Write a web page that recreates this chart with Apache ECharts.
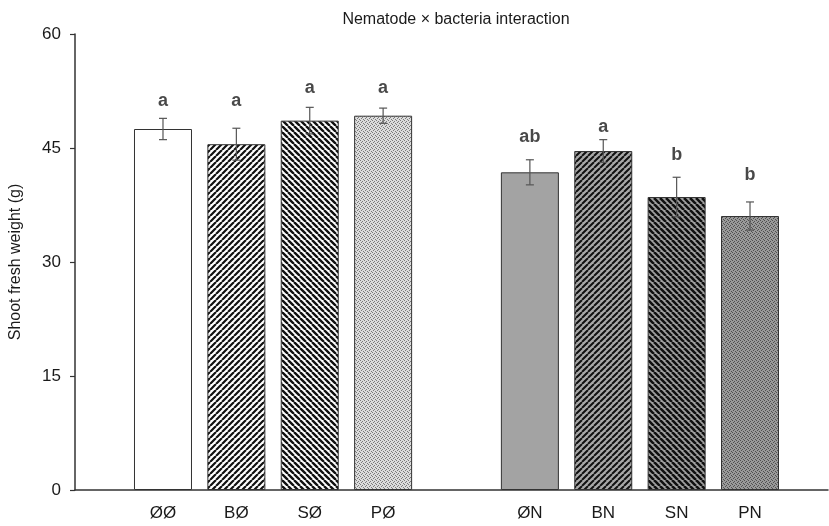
<!DOCTYPE html>
<html><head><meta charset="utf-8">
<script src="https://cdn.jsdelivr.net/npm/echarts@6/dist/echarts.min.js"></script>
<style>html,body{margin:0;padding:0;background:#fff}#c{width:829px;height:526px}</style>
</head><body><div id="c"></div>
<script>
const categories = ['ØØ','BØ','SØ','PØ','','ØN','BN','SN','PN'];
const means = [47.5, 45.5, 48.6, 49.25, null, 41.8, 44.6, 38.55, 36.05];
const errors = [1.4, 2.1, 1.75, 1.0, null, 1.65, 1.5, 2.6, 1.85];
const letters = ['a','a','a','a','','ab','a','b','b'];
const letterY = [51.2, 51.2, 52.9, 52.9, null, 46.4, 47.8, 44.1, 41.4];
const yTicks = [0, 15, 30, 45, 60];

function stripe(bg, fg, dir, p, lw) {
  const c = document.createElement('canvas'); c.width = p; c.height = p;
  const g = c.getContext('2d');
  g.fillStyle = bg; g.fillRect(0, 0, p, p);
  g.strokeStyle = fg; g.lineWidth = lw; g.beginPath();
  for (const k of [-p, 0, p]) {
    if (dir === '/') { g.moveTo(k, p); g.lineTo(k + p, 0); }
    else { g.moveTo(k, 0); g.lineTo(k + p, p); }
  }
  g.stroke();
  return { image: c, repeat: 'repeat' };
}
function dots(bg, fg) {
  const c = document.createElement('canvas'); c.width = 4; c.height = 4;
  const g = c.getContext('2d');
  g.fillStyle = bg; g.fillRect(0, 0, 4, 4);
  g.fillStyle = fg;
  [[0,0],[2,1],[1,2],[3,3]].forEach(([x,y]) => g.fillRect(x, y, 1, 1));
  return { image: c, repeat: 'repeat' };
}
const fills = [
  '#ffffff',
  stripe('#ffffff', '#111111', '/', 6, 2.2),
  stripe('#ffffff', '#111111', '\\', 6, 2.4),
  dots('#dcdcdc', '#7a7a7a'),
  null,
  '#a3a3a3',
  stripe('#a8a8a8', '#111111', '/', 6, 2.0),
  stripe('#a0a0a0', '#111111', '\\', 6, 2.6),
  dots('#9a9a9a', '#505050')
];

const chart = echarts.init(document.getElementById('c'));
const font = 'Liberation Sans, Arial, sans-serif';
chart.setOption({
  animation: false,
  title: { text: 'Nematode × bacteria interaction', left: 451, top: 7, textAlign: 'center',
    textStyle: { fontFamily: font, fontSize: 16, fontWeight: 'normal', color: '#1a1a1a' } },
  grid: [
    { left: 75, right: 1, top: 34, bottom: 36 },
    { left: 126.3, right: 42.3, top: 34, bottom: 36 }
  ],
  xAxis: [
    { gridIndex: 0, type: 'value', min: 0, max: 1, axisLine: { show: true, lineStyle: { color: '#333', width: 1.5 } },
      axisTick: { show: false }, axisLabel: { show: false }, splitLine: { show: false } },
    { gridIndex: 1, type: 'category', data: categories, axisLine: { show: false }, axisTick: { show: false },
      axisLabel: { fontFamily: font, fontSize: 17, color: '#1a1a1a', margin: 15 } }
  ],
  yAxis: [
    { gridIndex: 0, type: 'value', min: yTicks[0], max: yTicks[yTicks.length - 1], interval: 15,
      name: 'Shoot fresh weight (g)', nameLocation: 'middle', nameGap: 51,
      nameTextStyle: { fontFamily: font, fontSize: 16, color: '#1a1a1a' },
      axisLine: { show: true, lineStyle: { color: '#333', width: 1.5 } },
      axisTick: { show: true, length: 5, lineStyle: { color: '#333', width: 1.2 } },
      axisLabel: { fontFamily: font, fontSize: 17, color: '#1a1a1a', margin: 14 },
      splitLine: { show: false } },
    { gridIndex: 1, type: 'value', min: yTicks[0], max: yTicks[yTicks.length - 1], interval: 15, show: false }
  ],
  series: [
    { type: 'bar', xAxisIndex: 1, yAxisIndex: 1, barWidth: 58,
      data: means.map((v, i) => v == null ? '-' : { value: v, itemStyle: { color: fills[i], borderColor: '#333', borderWidth: 1 } }) },
    { type: 'custom', xAxisIndex: 1, yAxisIndex: 1, z: 5,
      data: means.map((v, i) => v == null ? [i, null, null] : [i, v - errors[i], v + errors[i]]),
      renderItem: function (params, api) {
        if (api.value(1) == null || isNaN(api.value(1))) return;
        const lo = api.coord([api.value(0), api.value(1)]);
        const hi = api.coord([api.value(0), api.value(2)]);
        const w = 4;
        const st = { stroke: '#555', lineWidth: 1.2 };
        return { type: 'group', children: [
          { type: 'line', shape: { x1: lo[0], y1: lo[1], x2: hi[0], y2: hi[1] }, style: st },
          { type: 'line', shape: { x1: hi[0] - w, y1: hi[1], x2: hi[0] + w, y2: hi[1] }, style: st },
          { type: 'line', shape: { x1: lo[0] - w, y1: lo[1], x2: lo[0] + w, y2: lo[1] }, style: st }
        ] };
      } },
    { type: 'scatter', xAxisIndex: 1, yAxisIndex: 1, symbolSize: 1, itemStyle: { color: 'rgba(0,0,0,0)' },
      data: letterY.map((v, i) => v == null ? [i, null] : [i, v]),
      label: { show: true, position: 'inside', fontFamily: font, fontSize: 18, fontWeight: 'bold', color: '#1a1a1a',
        formatter: p => letters[p.dataIndex] } }
  ]
});
</script></body></html>
